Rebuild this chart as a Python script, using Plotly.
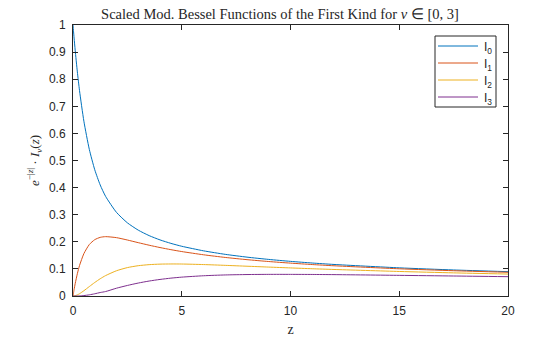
import plotly.graph_objects as go

# Sample points along z and the exponentially scaled modified Bessel values e^{-|z|} I_nu(z)
z = [0, 0.02, 0.05, 0.1, 0.2, 0.3, 0.5, 0.75, 1, 1.25, 1.5, 2, 2.5, 3, 3.5, 4, 4.5,
     5, 6, 7, 8, 9, 10, 11, 12, 15, 17.5, 20]

i0 = [1.0, 0.9803, 0.9518, 0.9071, 0.8269, 0.7576, 0.6450, 0.5411, 0.4658, 0.4098,
      0.3674, 0.3085, 0.2700, 0.2430, 0.2228, 0.2070, 0.1942, 0.1835, 0.1667, 0.1537,
      0.1434, 0.1350, 0.1278, 0.1217, 0.1164, 0.1039, 0.0961, 0.0898]
i1 = [0.0, 0.0098, 0.0238, 0.0454, 0.0823, 0.1124, 0.1564, 0.1899, 0.2079, 0.2164,
      0.2190, 0.2153, 0.2066, 0.1968, 0.1874, 0.1788, 0.1710, 0.1640, 0.1521, 0.1423,
      0.1341, 0.1272, 0.1213, 0.1161, 0.1115, 0.1004, 0.0933, 0.0875]
i2 = [0.0, 0.00005, 0.0003, 0.0011, 0.0041, 0.0084, 0.0194, 0.0348, 0.0499, 0.0636,
      0.0754, 0.0932, 0.1048, 0.1118, 0.1157, 0.1176, 0.1182, 0.1180, 0.1160, 0.1131,
      0.1099, 0.1067, 0.1036, 0.1006, 0.0979, 0.0905, 0.0854, 0.0810]
i3 = [0.0, 0.0, 0.0, 0.00002, 0.0001, 0.0004, 0.0016, 0.0043, 0.0082, 0.0128,
      0.0165, 0.0288, 0.0389, 0.0478, 0.0552, 0.0611, 0.0659, 0.0696, 0.0747, 0.0777,
      0.0792, 0.0798, 0.0798, 0.0795, 0.0789, 0.0762, 0.0738, 0.0713]

series_names = ["I<sub>0</sub>", "I<sub>1</sub>", "I<sub>2</sub>", "I<sub>3</sub>"]
series_values = [i0, i1, i2, i3]
series_colors = ["#0072BD", "#D95319", "#EDB120", "#7E2F8E"]

x_ticks = [0, 5, 10, 15, 20]
y_ticks = [0, 0.1, 0.2, 0.3, 0.4, 0.5, 0.6, 0.7, 0.8, 0.9, 1]
y_tick_text = ["0", "0.1", "0.2", "0.3", "0.4", "0.5", "0.6", "0.7", "0.8", "0.9", "1"]

INK = "#262626"
SANS = "Liberation Sans, Arial, Helvetica"
SERIF = "Liberation Serif, Times New Roman, serif"

W, H = 560, 337
ML, MR, MT, MB = 73, 52, 25, 41
PW, PH = W - ML - MR, H - MT - MB


def px_x(px):
    """Pixel column -> paper x."""
    return (px - ML) / PW


def px_y(py):
    """Pixel row (from top) -> paper y."""
    return (H - MB - py) / PH


fig = go.Figure()
for name, vals, color in zip(series_names, series_values, series_colors):
    fig.add_trace(go.Scatter(x=z, y=vals, name=name, mode="lines", showlegend=False,
                             line=dict(color=color, width=1, shape="spline", smoothing=0.6)))

axis_common = dict(showline=True, linecolor=INK, linewidth=1, mirror="ticks",
                   ticks="inside", ticklen=5, tickcolor=INK, showgrid=False,
                   zeroline=False, ticklabelstandoff=4, automargin=False,
                   tickfont=dict(family=SANS, size=12, color=INK))

fig.update_xaxes(range=[0, 20], tickvals=x_ticks, ticktext=[str(v) for v in x_ticks],
                 title=dict(text="z", font=dict(family=SERIF, size=14, color=INK), standoff=8),
                 **axis_common)
fig.update_yaxes(range=[0, 1], tickvals=y_ticks, ticktext=y_tick_text,
                 title=dict(text="<i>e</i><sup>−|<i>z</i>|</sup> · <i>I<sub>ν</sub></i>(<i>z</i>)",
                            font=dict(family=SERIF, size=13, color=INK), standoff=6),
                 **axis_common)

# Boxed legend in the upper-right corner of the axes
box_l, box_r, box_t, box_b = 435, 496, 36, 107
row_y0, row_step = 46, 17
shapes = [dict(type="rect", xref="paper", yref="paper",
               x0=px_x(box_l), x1=px_x(box_r), y0=px_y(box_b), y1=px_y(box_t),
               line=dict(color=INK, width=1), fillcolor="white", layer="above")]
annotations = []
for k, (name, color) in enumerate(zip(series_names, series_colors)):
    ry = row_y0 + k * row_step
    shapes.append(dict(type="line", xref="paper", yref="paper",
                       x0=px_x(438), x1=px_x(478), y0=px_y(ry), y1=px_y(ry),
                       line=dict(color=color, width=1), layer="above"))
    annotations.append(dict(text=name, xref="paper", yref="paper", x=px_x(482), y=px_y(ry + 2),
                            xanchor="left", yanchor="middle", showarrow=False,
                            font=dict(family=SANS, size=12, color=INK)))

fig.update_layout(
    width=W, height=H,
    margin=dict(l=ML, r=MR, t=MT, b=MB, autoexpand=False),
    paper_bgcolor="white", plot_bgcolor="white",
    title=dict(text="Scaled Mod. Bessel Functions of the First Kind for <i>ν</i> ∈ [0, 3]",
               font=dict(family=SERIF, size=14.5, color=INK),
               x=0.5, xanchor="center", y=0.958, yanchor="middle"),
    shapes=shapes,
    annotations=annotations,
)

fig.write_html("out.html")
